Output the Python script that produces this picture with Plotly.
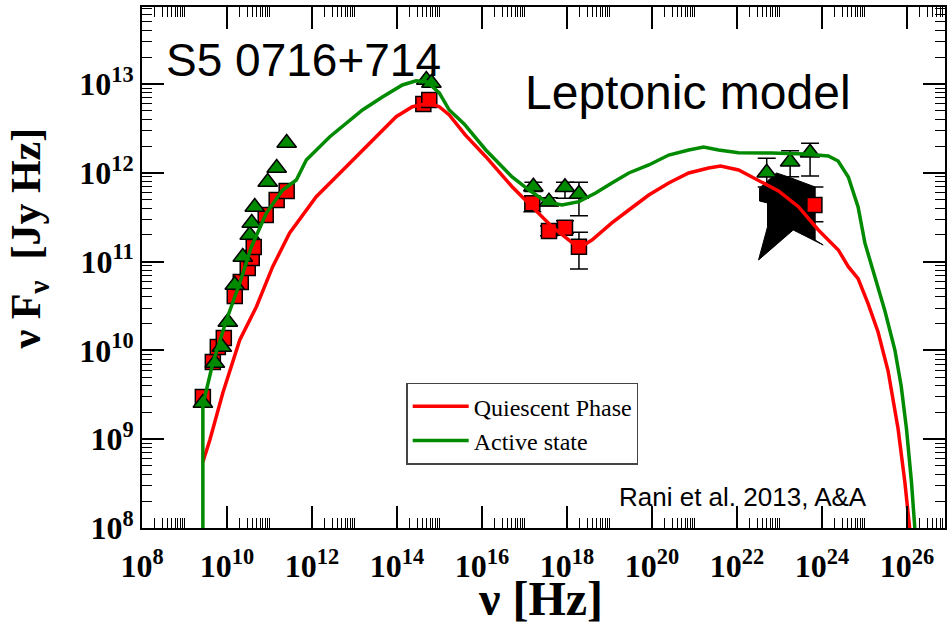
import numpy as np
import plotly.graph_objects as go

# ---------------- model curves (log10 nu [Hz], log10 nuFnu [Jy Hz]) ----------------
lognu_active = [9.432, 9.432, 9.667, 9.988, 10.30, 10.575, 10.927, 11.31, 11.631, 11.866,
                12.413, 12.805, 13.188, 13.657, 14.127, 14.448, 14.714, 14.995, 15.23, 15.58,
                16.09, 16.709, 17.108, 17.5, 17.883, 18.282, 18.674, 19.056, 19.455, 19.925,
                20.394, 20.864, 21.216, 21.568, 22.038, 22.81, 23.6, 24.15, 24.38, 24.62,
                24.85, 25.01, 25.25, 25.48, 25.716, 25.864, 25.988, 26.106, 26.2]
logflux_active = [7.9, 9.385, 9.858, 10.342, 10.759, 11.168, 11.547, 11.806, 11.919, 12.144,
                  12.403, 12.561, 12.707, 12.854, 12.989, 13.037, 13.023, 12.899, 12.707, 12.55,
                  12.257, 11.953, 11.806, 11.675, 11.637, 11.675, 11.773, 11.885, 11.998, 12.088,
                  12.2, 12.257, 12.291, 12.257, 12.226, 12.223, 12.212, 12.19, 12.133, 11.953,
                  11.615, 11.21, 10.81, 10.447, 10.004, 9.6, 9.12, 8.518, 7.9]

lognu_quiet = [9.432, 9.596, 9.901, 10.30, 10.692, 11.075, 11.474, 11.866, 12.1, 12.57,
               13.04, 13.51, 13.98, 14.362, 14.76, 14.995, 15.23, 15.606, 16.09, 16.709,
               17.178, 17.648, 18.047, 18.282, 18.587, 19.056, 19.455, 19.925, 20.394, 20.864,
               21.333, 21.615, 22.038, 22.507, 22.977, 23.446, 23.915, 24.385, 24.62, 24.85,
               25.085, 25.32, 25.556, 25.79, 25.95, 26.085]
logflux_quiet = [8.743, 8.991, 9.52, 10.117, 10.492, 10.943, 11.322, 11.581, 11.731, 11.956,
                 12.181, 12.407, 12.632, 12.744, 12.783, 12.744, 12.651, 12.426, 12.181, 11.843,
                 11.618, 11.393, 11.243, 11.153, 11.243, 11.435, 11.581, 11.75, 11.885, 11.998,
                 12.054, 12.077, 12.032, 11.919, 11.795, 11.618, 11.356, 11.131, 10.943, 10.809,
                 10.527, 10.207, 9.768, 9.12, 8.518, 7.9]

# ---------------- observed fluxes ----------------
# quiescent phase (squares), radio + optical, no error bars
lognu_q_pts = [9.432, 9.667, 9.784, 9.925, 10.183, 10.324, 10.488, 10.582, 10.629, 10.911,
               11.169, 11.404, 14.62, 14.76]
logflux_q_pts = [9.475, 9.869, 10.038, 10.14, 10.613, 10.77, 10.928, 11.04, 11.164, 11.525,
                 11.694, 11.795, 12.775, 12.82]
# quiescent phase, X-ray + gamma, with error bars
lognu_q_err = [17.185, 17.577, 17.953, 18.282, 23.822]
logflux_q_err = [11.657, 11.345, 11.382, 11.168, 11.637]
logflux_q_hi = [11.731, 11.40, 11.461, 11.33, 11.84]
logflux_q_lo = [11.562, 11.29, 11.319, 10.917, 11.45]

# active state (triangles), radio + optical
lognu_a_pts = [9.432, 9.714, 9.878, 10.019, 10.183, 10.371, 10.535, 10.582, 10.653, 10.958,
               11.169, 11.404, 14.69, 14.81]
logflux_a_pts = [9.408, 9.858, 10.038, 10.32, 10.736, 11.052, 11.3, 11.435, 11.615, 11.896,
                 12.054, 12.336, 13.045, 13.011]
# active state, X-ray + gamma, with error bars
lognu_a_err = [17.209, 17.577, 17.953, 18.282, 22.70, 23.251, 23.72]
logflux_a_err = [11.843, 11.675, 11.837, 11.761, 12.001, 12.125, 12.226]
logflux_a_hi = [11.893, 11.72, 11.893, 11.893, 12.163, 12.249, 12.332]
logflux_a_lo = [11.79, 11.63, 11.713, 11.517, 11.84, 11.956, 11.964]

# Fermi-LAT butterfly outline
lognu_bowtie = [22.531, 22.93, 23.211, 23.84, 23.84, 24.028, 23.324, 22.507, 22.718, 22.718,
                22.531, 22.531]
logflux_bowtie = [11.829, 11.998, 11.953, 11.84, 11.243, 11.187, 11.356, 11.018, 11.39, 11.66,
                  11.682, 11.829]

# axis ticks
x_tick_exp = [8, 10, 12, 14, 16, 18, 20, 22, 24, 26]
y_tick_exp = [8, 9, 10, 11, 12, 13]

RED = "#ff0000"
GREEN = "#008a00"
SERIF = "Liberation Serif"
SANS = "Liberation Sans"


def p10(a):
    return 10 ** np.asarray(a, dtype=float)


fig = go.Figure()

# bowtie
fig.add_trace(go.Scatter(x=p10(lognu_bowtie), y=p10(logflux_bowtie), mode="lines",
                         fill="toself", fillcolor="black",
                         line=dict(color="black", width=1, simplify=False),
                         showlegend=False, hoverinfo="skip"))


def err_arrays(y, hi, lo):
    y = p10(y)
    return p10(hi) - y, y - p10(lo)


sq = dict(symbol="square", size=15, color=RED, line=dict(color="black", width=1.5))
tri = dict(symbol="triangle-up", size=17, color=GREEN, line=dict(color="black", width=1.5))

for lx, ly, mk in [(lognu_q_pts, logflux_q_pts, sq), (lognu_a_pts, logflux_a_pts, tri)]:
    fig.add_trace(go.Scatter(x=p10(lx), y=p10(ly), mode="markers", marker=mk,
                             showlegend=False))

for lx, ly, hi, lo, mk in [(lognu_q_err, logflux_q_err, logflux_q_hi, logflux_q_lo, sq),
                           (lognu_a_err, logflux_a_err, logflux_a_hi, logflux_a_lo, tri)]:
    up, dn = err_arrays(ly, hi, lo)
    fig.add_trace(go.Scatter(x=p10(lx), y=p10(ly), mode="markers", marker=mk,
                             error_y=dict(type="data", symmetric=False, array=up, arrayminus=dn,
                                          color="black", thickness=1.5, width=9),
                             showlegend=False))

# model curves
fig.add_trace(go.Scatter(x=p10(lognu_quiet), y=p10(logflux_quiet), mode="lines",
                         line=dict(color=RED, width=3.5), name="Quiescent Phase"))
fig.add_trace(go.Scatter(x=p10(lognu_active), y=p10(logflux_active), mode="lines",
                         line=dict(color=GREEN, width=3.5), name="Active state"))

x_minor = [m * 10.0 ** d for d in range(8, 27, 2) for m in range(2, 11)]
y_minor = [m * 10.0 ** d for d in range(8, 14) for m in range(2, 10)]

axis_common = dict(type="log", showgrid=False, zeroline=False, showline=True,
                   linecolor="black", linewidth=2, mirror="ticks", ticks="inside",
                   ticklen=22, tickwidth=2, tickcolor="black",
                   tickfont=dict(family=SERIF, size=32, color="black", weight="bold"))

fig.update_xaxes(range=[8, 26.895], tickmode="array",
                 tickvals=[10.0 ** e for e in x_tick_exp],
                 ticktext=[f"10<sup>{e}</sup>" for e in x_tick_exp],
                 ticklabelstandoff=9,
                 minor=dict(tickmode="array", tickvals=x_minor, ticks="inside", ticklen=10,
                            tickwidth=1, tickcolor="black", showgrid=False),
                 **axis_common)
fig.update_yaxes(range=[8, 13.867], tickmode="array",
                 tickvals=[10.0 ** e for e in y_tick_exp],
                 ticktext=[f"10<sup>{e}</sup>" for e in y_tick_exp],
                 minor=dict(tickmode="array", tickvals=y_minor, ticks="inside", ticklen=10,
                            tickwidth=1, tickcolor="black", showgrid=False),
                 **axis_common)

annotations = [
    dict(text="S5 0716+714", x=0.027, y=0.898, xanchor="left", yanchor="middle",
         font=dict(family=SANS, size=46, color="black")),
    dict(text="Leptonic model", x=0.474, y=0.835, xanchor="left", yanchor="middle",
         font=dict(family=SANS, size=48, color="black")),
    dict(text="Rani et al. 2013, A&amp;A", x=0.748, y=0.06, xanchor="center", yanchor="middle",
         font=dict(family=SANS, size=26, color="black")),
    dict(text="<b>ν [Hz]</b>", x=0.496, y=-0.136, xanchor="center", yanchor="middle",
         font=dict(family=SERIF, size=48, color="black")),
    dict(text="<b>ν F<sub>ν</sub>  [Jy Hz]</b>", x=-0.141, y=0.555, xanchor="center",
         yanchor="middle", textangle=-90,
         font=dict(family=SERIF, size=42, color="black")),
]
for a in annotations:
    a.update(xref="paper", yref="paper", showarrow=False)

fig.update_layout(
    width=951, height=625,
    margin=dict(l=142, r=4, t=7, b=97),
    paper_bgcolor="white", plot_bgcolor="white",
    annotations=annotations,
    legend=dict(x=0.329, y=0.279, xanchor="left", yanchor="top",
                bgcolor="white", bordercolor="#444444", borderwidth=1.5,
                font=dict(family=SERIF, size=24, color="black"),
                itemwidth=56, tracegroupgap=0),
)

fig.write_html("out.html")
